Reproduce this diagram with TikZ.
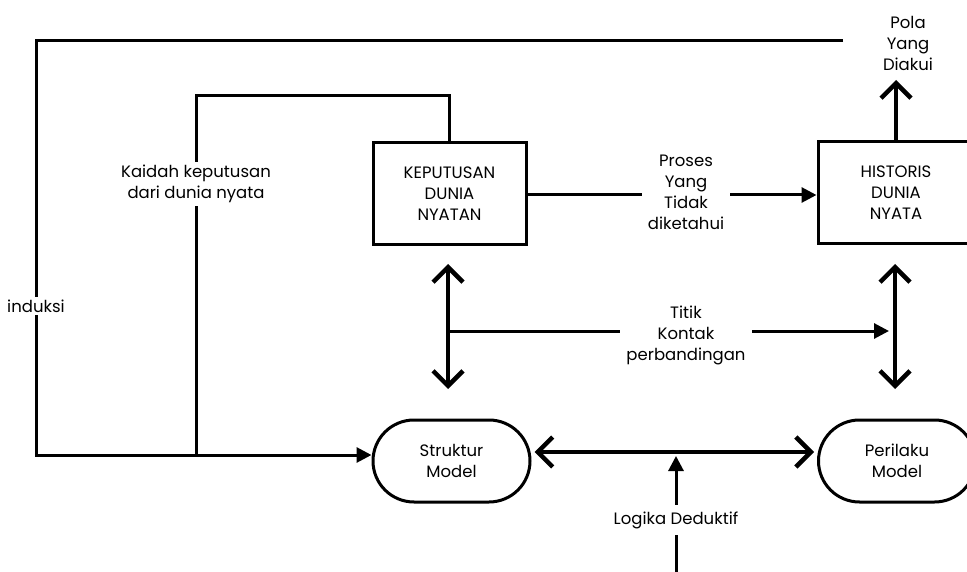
\documentclass[tikz,border=0pt]{standalone}
\usepackage{fontspec}
\setmainfont{Poppins}
\usetikzlibrary{arrows.meta,shapes.misc}
\begin{document}
\begin{tikzpicture}[x=1pt,y=-1pt,
  every node/.style={font=\fontsize{16.5}{21}\selectfont, align=center},
  ln/.style={line width=3pt, line join=miter},
  dbl/.style={line width=4.5pt, {Straight Barb[length=15pt,width=30pt,line width=4.5pt]}-{Straight Barb[length=15pt,width=30pt,line width=4.5pt]}},
  uparr/.style={line width=4.5pt, -{Straight Barb[length=15pt,width=30pt,line width=4.5pt]}},
  fa/.style={ln, -{Triangle[length=15pt,width=15pt]}},
  boxs/.style={draw, line width=3pt, rectangle, inner sep=0pt},
  rbox/.style={draw, line width=3pt, rounded rectangle, inner sep=0pt, minimum width=157pt, minimum height=82pt},
  lbl/.style={fill=white, inner sep=3pt}
]
\useasboundingbox (0,0) rectangle (967,572);
\fill[white] (0,0) rectangle (967,572);

\node[boxs, minimum width=153pt, minimum height=102pt] (kep) at (449.5,194) {KEPUTUSAN\\ DUNIA\\NYATAN};
\node[boxs, minimum width=156pt, minimum height=102pt] (his) at (896,193) {HISTORIS\\ DUNIA\\NYATA};
\node[rbox] (struk) at (451.5,461) {Struktur\\ Model};
\node[rbox] (peril) at (897,461) {Perilaku\\ Model};
\node (pola) at (908,43) {Pola\\Yang\\Diakui};

\coordinate (tl) at (36,41);
\coordinate (tr) at (843,41);
\coordinate (bl) at (36,455);
\coordinate (jn) at (196,455);
\coordinate (ki) at (196,96);

% outer induction loop
\draw[ln] (tr) -- (tl) -- (bl) -- (jn);
\draw[fa] (jn) -- (struk.west |- jn);
\node[lbl] (ind) at (36,306) {induksi};

% decision rules
\draw[ln] (jn) -- (ki) -| (kep.north);
\node[lbl] (kaidah) at (196,184) {Kaidah keputusan\\ dari dunia nyata};

% unknown process
\draw[fa] (kep.east |- 0,195) -- (his.west |- 0,195);
\node[lbl, inner sep=6pt] (proses) at (686,192) {Proses\\Yang\\Tidak\\diketahui};

% recognized pattern
\coordinate (pt) at (896,80);
\draw[uparr] (his.north) -- (pt);

% comparison arrows
\coordinate (la) at (448,264);
\coordinate (lb) at (448,389);
\coordinate (ra) at (895,264);
\coordinate (rb) at (895,389);
\coordinate (lm) at (448,331);
\coordinate (rm) at (889,331);
\draw[dbl] (la) -- (lb);
\draw[dbl] (ra) -- (rb);
\draw[fa] (lm) -- (rm);
\node[lbl, inner sep=6pt] (titik) at (686,335) {Titik\\Kontak\\perbandingan};

% model link
\draw[dbl] ([xshift=3pt,yshift=9pt]struk.east) -- ([xshift=-3pt,yshift=9pt]peril.west);
\coordinate (lg) at (676,572);
\coordinate (lgt) at (676,456);
\draw[fa] (lg) -- (lgt);
\node[lbl, inner sep=6pt] (logika) at (676,520) {Logika Deduktif};
\end{tikzpicture}
\end{document}
